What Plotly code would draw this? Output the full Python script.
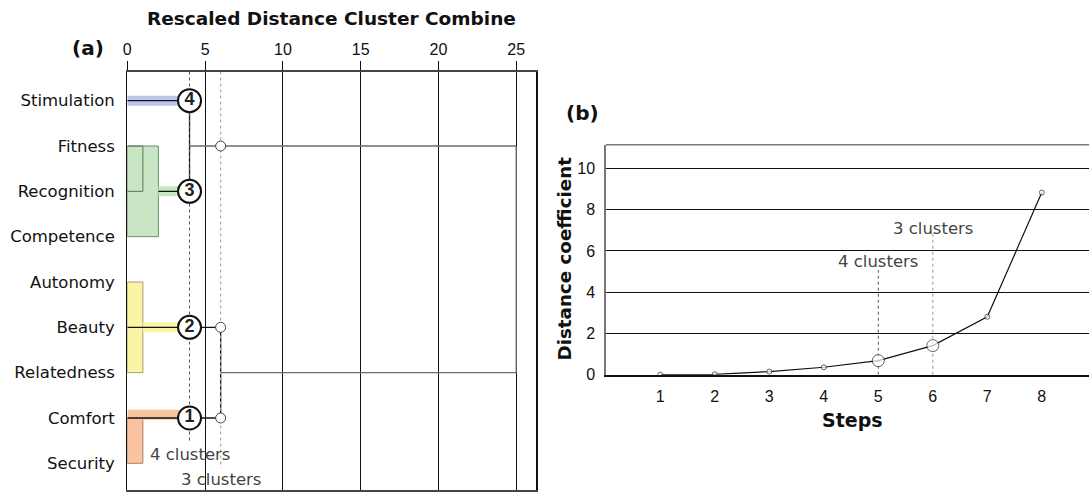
import plotly.graph_objects as go

# ---------------- data : panel (a) dendrogram ----------------
labels = ["Stimulation", "Fitness", "Recognition", "Competence", "Autonomy",
          "Beauty", "Relatedness", "Comfort", "Security"]
dist_ticks = [0, 5, 10, 15, 20, 25]

cluster_ids = [4, 3, 2, 1]
cluster_first = ["Stimulation", "Fitness", "Autonomy", "Comfort"]
cluster_last = ["Stimulation", "Competence", "Relatedness", "Security"]
cluster_exit = ["Stimulation", "Recognition", "Beauty", "Comfort"]
cluster_join = [0, 2, 1, 1]          # rescaled distance where members fuse
band_from = [0, 2, 1, 0]
stem_from = [0, 2, 0, 0]
cluster_fill = ["#b9c5ea", "#c8e6c4", "#fbf4a7", "#f9c3a0"]
cluster_edge = ["#8090c0", "#6f8f6f", "#a8a070", "#b08060"]

sub_a = ["Fitness"]
sub_b = ["Recognition"]
sub_dist = [1]

cut4 = 4
cut3 = 6
pair_upper = [4, 3]
pair_lower = [2, 1]
pair_join = [4, 6]
final_join = 25

# ---------------- data : panel (b) agglomeration ----------------
steps = [1, 2, 3, 4, 5, 6, 7, 8]
coef = [0.0, 0.02, 0.15, 0.36, 0.68, 1.41, 2.81, 8.83]
marked_steps = [5, 6]
coef_ticks = [0, 2, 4, 6, 8, 10]

W, H = 1089, 492
TXT = "DejaVu Sans"
NUM = "Liberation Sans, Arial"


def r(name):
    return labels.index(name) + 1


fig = go.Figure()


def line(xs, ys, color="#111", width=1.3, dash=None, xa="x", ya="y"):
    fig.add_trace(go.Scatter(x=xs, y=ys, mode="lines", xaxis=xa, yaxis=ya,
                             line=dict(color=color, width=width, dash=dash),
                             hoverinfo="skip", showlegend=False))


# boxes
for i, cid in enumerate(cluster_ids):
    if cluster_first[i] != cluster_last[i]:
        x0, x1 = 0, cluster_join[i]
        y0, y1 = r(cluster_first[i]), r(cluster_last[i])
        fig.add_trace(go.Scatter(x=[x0, x1, x1, x0, x0], y=[y0, y0, y1, y1, y0],
                                 mode="lines", fill="toself", fillcolor=cluster_fill[i],
                                 line=dict(color=cluster_edge[i], width=1),
                                 hoverinfo="skip", showlegend=False))
# bands
for i, cid in enumerate(cluster_ids):
    off = -0.07 if cluster_first[i] == cluster_exit[i] and cluster_first[i] != cluster_last[i] else 0
    line([band_from[i], cut4], [r(cluster_exit[i]) + off] * 2, color=cluster_fill[i], width=10)
# inner sub-brackets
for a, b, d in zip(sub_a, sub_b, sub_dist):
    line([0, d, d, 0], [r(a), r(a), r(b), r(b)], color="#5f6f5f", width=1)
# stems to the 4-cluster cut
for i, cid in enumerate(cluster_ids):
    line([stem_from[i], cut4], [r(cluster_exit[i])] * 2)

ex = {cid: r(cluster_exit[i]) for i, cid in enumerate(cluster_ids)}
# upper pair: joined at pair_join[0]
u0, u1 = ex[pair_upper[0]], ex[pair_upper[1]]
umid = (u0 + u1) / 2
line([pair_join[0]] * 2, [u0, u1])
line([pair_join[0], final_join], [umid, umid], color="#6a6a6a")
# lower pair: joined at pair_join[1]
l0, l1 = ex[pair_lower[0]], ex[pair_lower[1]]
lmid = (l0 + l1) / 2
line([cut4, pair_join[1]], [l0, l0])
line([cut4, pair_join[1]], [l1, l1])
line([pair_join[1]] * 2, [l0, l1])
line([pair_join[1], final_join], [lmid, lmid], color="#6a6a6a")
# final join
line([final_join] * 2, [umid, lmid], color="#6a6a6a")

# cut lines
line([cut4, cut4], [0.356, 8.55], color="#555", width=1, dash="dot")
line([cut3, cut3], [0.356, 9.10], color="#aaa", width=1.2, dash="dot")

# small circles where 3-cluster cut crosses branches
fig.add_trace(go.Scatter(x=[cut3, cut3, cut3], y=[umid, l0, l1], mode="markers",
                         marker=dict(size=10, color="white", line=dict(color="#444", width=1)),
                         hoverinfo="skip", showlegend=False))
# numbered circles
fig.add_trace(go.Scatter(x=[cut4] * 4, y=[ex[c] for c in cluster_ids], mode="markers+text",
                         text=["<b>%d</b>" % c for c in cluster_ids],
                         textposition="middle center",
                         textfont=dict(family=NUM, size=18, color="#222"),
                         marker=dict(size=23, color="white", line=dict(color="#111", width=2)),
                         hoverinfo="skip", showlegend=False))

# ---------------- panel (b) ----------------
line([marked_steps[0]] * 2, [0, 5.07], color="#555", width=1, dash="dot", xa="x2", ya="y2")
line([marked_steps[1]] * 2, [0, 6.85], color="#aaa", width=1.2, dash="dot", xa="x2", ya="y2")
fig.add_trace(go.Scatter(x=steps, y=coef, mode="lines+markers", xaxis="x2", yaxis="y2",
                         line=dict(color="#111", width=1.2),
                         marker=dict(size=[12 if s in marked_steps else 5 for s in steps],
                                     color="white", line=dict(color="#222", width=1)),
                         hoverinfo="skip", showlegend=False))

ann = []
ann.append(dict(text="<b>Rescaled Distance Cluster Combine</b>", xref="paper", yref="paper",
                x=331.8 / W, y=(H - 19) / H, showarrow=False, xanchor="center", yanchor="middle",
                font=dict(family=TXT, size=18.5, color="#111")))
ann.append(dict(text="<b>(a)</b>", xref="paper", yref="paper", x=88 / W, y=(H - 48) / H,
                showarrow=False, xanchor="center", yanchor="middle",
                font=dict(family=TXT, size=20, color="#111")))
ann.append(dict(text="<b>(b)</b>", xref="paper", yref="paper", x=582 / W, y=(H - 113) / H,
                showarrow=False, xanchor="center", yanchor="middle",
                font=dict(family=TXT, size=20, color="#111")))
ann.append(dict(text="<b>Steps</b>", xref="paper", yref="paper", x=852 / W, y=(H - 420) / H,
                showarrow=False, xanchor="center", yanchor="middle",
                font=dict(family=TXT, size=19, color="#111")))
ann.append(dict(text="<b>Distance coefficient</b>", xref="paper", yref="paper", x=563.5 / W,
                y=(H - 259) / H, showarrow=False, xanchor="center", yanchor="middle",
                textangle=-90, font=dict(family=TXT, size=18.3, color="#111")))
for txt, xx, yy, xa, ya in [("4 clusters", cut4, 8.795, "x", "y"),
                            ("3 clusters", cut3, 9.35, "x", "y"),
                            ("4 clusters", marked_steps[0], 5.47, "x2", "y2"),
                            ("3 clusters", marked_steps[1], 7.09, "x2", "y2")]:
    ann.append(dict(text=txt, xref=xa, yref=ya, x=xx, y=yy, showarrow=False,
                    xanchor="center", yanchor="middle",
                    font=dict(family=TXT, size=16.5, color="#444")))

shapes = [dict(type="line", xref="x2 domain", yref="y2 domain", x0=0, x1=1, y0=1, y1=1,
               line=dict(color="#777", width=1.5))]

fig.update_layout(
    width=W, height=H, margin=dict(l=0, r=0, t=0, b=0, autoexpand=False),
    paper_bgcolor="white", plot_bgcolor="white",
    annotations=ann, shapes=shapes,
    xaxis=dict(domain=[127.3 / W, 536.3 / W], range=[0, 26.29], side="top",
               tickvals=dist_ticks, ticks="outside", ticklen=9, tickcolor="#111", tickwidth=1,
               showgrid=True, gridcolor="#111", gridwidth=1, zeroline=False,
               showline=True, linecolor="#444", linewidth=1.5, mirror=True, automargin=False,
               tickfont=dict(family=NUM, size=16, color="#111"), anchor="y", fixedrange=True),
    yaxis=dict(domain=[2 / H, (H - 71.5) / H], range=[9.589, 0.356],
               tickvals=list(range(1, len(labels) + 1)), ticktext=labels,
               ticks="outside", ticklen=8, tickcolor="rgba(0,0,0,0)",
               showgrid=False, zeroline=False, showline=True, linecolor="#111",
               linewidth=1.2, mirror=True, anchor="x", automargin=False,
               tickfont=dict(family=TXT, size=16.5, color="#111")),
    xaxis2=dict(domain=[605.8 / W, 1], range=[0, 8.866], anchor="y2", automargin=False,
                tickvals=steps, ticks="outside", ticklen=6, tickcolor="rgba(0,0,0,0)",
                showgrid=False, zeroline=False, showline=True, linecolor="#111", linewidth=2.5,
                tickfont=dict(family=NUM, size=16, color="#111")),
    yaxis2=dict(domain=[(H - 374.7) / H, (H - 144.7) / H], range=[0, 11.15], anchor="x2",
                tickvals=coef_ticks, ticks="outside", ticklen=6, tickcolor="rgba(0,0,0,0)",
                showgrid=True, gridcolor="#111", gridwidth=1, zeroline=False, automargin=False,
                showline=True, linecolor="#777", linewidth=1.5,
                tickfont=dict(family=NUM, size=16, color="#111")),
)

fig.write_html("out.html", config={"displayModeBar": False, "staticPlot": True},
               post_script="document.body.style.margin='0';document.body.style.overflow='hidden';")
